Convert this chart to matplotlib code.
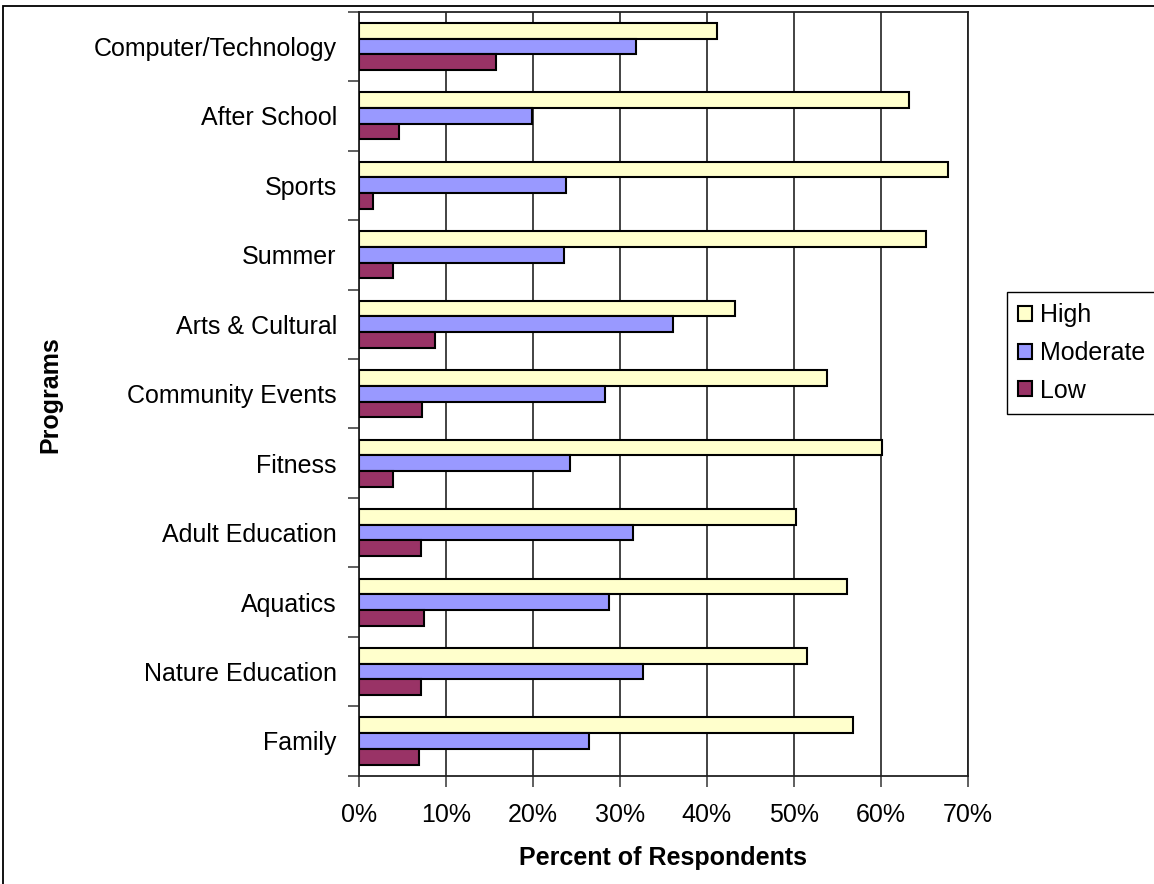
import numpy as np
import matplotlib.pyplot as plt
from matplotlib.patches import Rectangle

plt.rcParams['font.family'] = ['Liberation Sans', 'DejaVu Sans']

programs = ["Computer/Technology", "After School", "Sports", "Summer", "Arts & Cultural",
            "Community Events", "Fitness", "Adult Education", "Aquatics",
            "Nature Education", "Family"]
high = [41.2, 63.2, 67.7, 65.2, 43.2, 53.8, 60.2, 50.3, 56.1, 51.5, 56.8]
moderate = [31.8, 19.9, 23.8, 23.6, 36.1, 28.3, 24.3, 31.5, 28.8, 32.7, 26.5]
low = [15.8, 4.6, 1.6, 3.9, 8.7, 7.3, 3.9, 7.1, 7.5, 7.1, 6.9]
xticks = [0, 10, 20, 30, 40, 50, 60, 70]

fig = plt.figure(figsize=(11.54, 8.84), dpi=100)
ax = fig.add_axes([359/1154, 1-775.7/884, (967.7-359)/1154, (775.7-11.7)/884])

y = np.arange(len(programs))
h = 0.226
ax.barh(y - h, high, height=h, color="#FFFFCC", edgecolor="black", linewidth=1.5, label="High", zorder=3)
ax.barh(y, moderate, height=h, color="#9999FF", edgecolor="black", linewidth=1.5, label="Moderate", zorder=3)
ax.barh(y + h, low, height=h, color="#993366", edgecolor="black", linewidth=1.5, label="Low", zorder=3)

ax.set_ylim(len(programs) - 0.5, -0.5)
ax.set_xlim(0, 70)
ax.set_yticks(y)
ax.set_yticklabels(programs, fontsize=18)
ax.set_yticks(np.arange(len(programs) + 1) - 0.5, minor=True)
ax.tick_params(axis="y", which="major", length=0, pad=16)
ax.tick_params(axis="y", which="minor", length=8, width=1.2, color="#444444")
ax.set_xticks(xticks)
ax.set_xticklabels([f"{t}%" for t in xticks], fontsize=18)
ax.tick_params(axis="x", length=8, width=1.2, color="#444444", pad=12)

ax.xaxis.grid(True, color="#222222", linewidth=1.2)
ax.set_axisbelow(True)
for s in ax.spines.values():
    s.set_color("#222222")
    s.set_linewidth(1.3)

fig.text(663/1154, 1-858/884, "Percent of Respondents", fontsize=18, fontweight="bold",
         ha="center", va="center")
fig.text(50/1154, 1-395/884, "Programs", fontsize=18, fontweight="bold",
         ha="center", va="center", rotation=90)

leg = ax.legend(loc="upper left", bbox_to_anchor=(1007/1154, 1-292/884),
                bbox_transform=fig.transFigure, borderaxespad=0, fontsize=18,
                fancybox=False, framealpha=1, edgecolor="black",
                handlelength=0.55, handleheight=0.55, handletextpad=0.3,
                labelspacing=0.55, borderpad=0.45)
leg.get_frame().set_linewidth(1.0)

# outer chart border (clipped at right and bottom like the original)
fig.patches.append(Rectangle((3/1154, -0.1), 1.2, 1.1 - 5.7/884, transform=fig.transFigure,
                             fill=False, edgecolor="black", linewidth=1.3))

plt.savefig("out.png", dpi=100)
